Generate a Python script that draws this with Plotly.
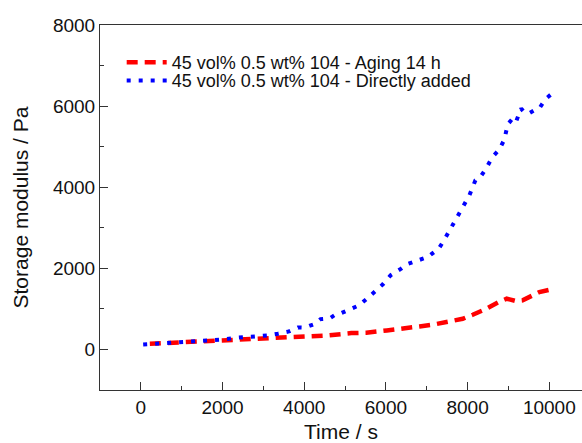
import plotly.graph_objects as go

# Storage modulus vs time, 45 vol% suspensions with 0.5 wt% 104
time_aging = [220, 1034, 1768, 2543, 3235, 3929, 4580, 5152, 5519, 6022, 6455,
              6822, 7188, 7513, 7880, 8125, 8411, 8761, 8957, 9185, 9347, 9756, 10040]
g_aging = [140, 180, 222, 247, 279, 304, 346, 403, 412, 469, 510,
           568, 617, 675, 757, 856, 980, 1168, 1251, 1193, 1210, 1415, 1480]

time_direct = [57, 545, 1034, 1523, 1948, 2355, 2812, 3113, 3357, 3626, 3846, 4010,
               4270, 4400, 4620, 4770, 4907, 5030, 5230, 5340, 5543, 5746, 5925,
               6113, 6235, 6373, 6510, 6700, 6862, 7025, 7131, 7293, 7432, 7513,
               7653, 7758, 7856, 8044, 8191, 8330, 8467, 8598, 8777, 8900, 8981,
               9103, 9185, 9308, 9389, 9494, 9634, 9756, 9902, 10041]
g_direct = [123, 156, 173, 215, 240, 289, 321, 346, 388, 444, 543, 536,
            634, 748, 765, 864, 897, 946, 1045, 1086, 1259, 1440, 1605,
            1827, 1894, 1992, 2099, 2173, 2239, 2280, 2363, 2486, 2709, 2857,
            3080, 3291, 3498, 3802, 4173, 4279, 4486, 4733, 4931, 5178, 5549,
            5696, 5613, 5943, 5844, 5819, 5901, 5943, 6172, 6288]

x_ticks = [0, 2000, 4000, 6000, 8000, 10000]
x_tick_labels = ["0", "2000", "4000", "6000", "8000", "10000"]
y_ticks = [0, 2000, 4000, 6000, 8000]
y_tick_labels = ["0", "2000", "4000", "6000", "8000"]

font_family = "Liberation Sans, Arial, sans-serif"
text_color = "#111111"

fig = go.Figure()
fig.add_trace(go.Scatter(
    x=time_aging, y=g_aging, mode="lines",
    name="45 vol% 0.5 wt% 104 - Aging 14 h",
    line=dict(color="#ff0000", width=4.5, dash="11px,7px"),
    legend="legend",
))
fig.add_trace(go.Scatter(
    x=time_direct, y=g_direct, mode="lines",
    name="45 vol% 0.5 wt% 104 - Directly added",
    line=dict(color="#0000ff", width=4, dash="4px,8px"),
    legend="legend2",
))

axis_common = dict(
    showline=True, linecolor="#333333", linewidth=1, mirror=True,
    showgrid=False, zeroline=False,
    ticks="inside", ticklen=8, tickcolor="#333333", tickwidth=1,
    tickfont=dict(family=font_family, size=19, color=text_color),
)

fig.update_xaxes(
    range=[-1000, 10800], tickvals=x_ticks, ticktext=x_tick_labels,
    minor=dict(ticks="inside", ticklen=4, dtick=1000, tickcolor="#333333"),
    title=dict(text="Time / s", font=dict(family=font_family, size=21, color=text_color),
               standoff=10),
    **axis_common,
)
fig.update_yaxes(
    range=[-1000, 8000], tickvals=y_ticks, ticktext=y_tick_labels,
    minor=dict(ticks="inside", ticklen=4, dtick=1000, tickcolor="#333333"),
    title=dict(text="Storage modulus / Pa", font=dict(family=font_family, size=21, color=text_color),
               standoff=18),
    **axis_common,
)

legend_common = dict(
    xanchor="left", yanchor="top",
    font=dict(family=font_family, size=18, color=text_color),
    bgcolor="rgba(0,0,0,0)", itemwidth=40,
)

fig.update_layout(
    width=582, height=443,
    margin=dict(l=100, r=0, t=25, b=53),
    paper_bgcolor="white", plot_bgcolor="white",
    showlegend=True,
    legend=dict(x=0.045, y=0.948, **legend_common),
    legend2=dict(x=0.045, y=0.898, **legend_common),
)

fig.write_html("out.html")
